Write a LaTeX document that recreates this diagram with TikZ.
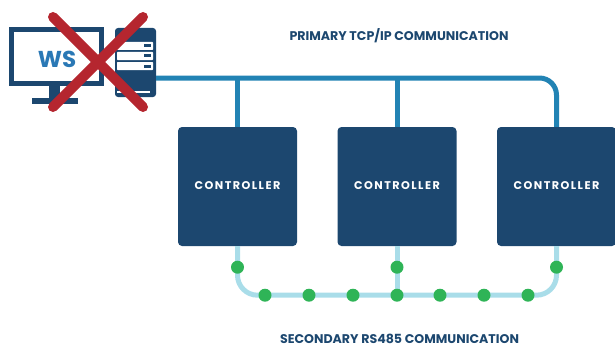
\documentclass[tikz,border=0pt]{standalone}
\usepackage{fontspec}
\setmainfont{Poppins}
\newfontfamily\ctrlfont[LetterSpace=13]{Poppins}
\usetikzlibrary{calc}
\definecolor{navy}{HTML}{1C476F}
\definecolor{tcpblue}{HTML}{2283B4}
\definecolor{wsblue}{HTML}{2A78B5}
\definecolor{rsblue}{HTML}{A9DDE9}
\definecolor{busgreen}{HTML}{2FB457}
\definecolor{crossred}{HTML}{B5262F}
\tikzstyle{controller} = [rectangle, rounded corners=4pt, minimum width=119pt,
    minimum height=119pt, inner sep=0pt, text centered, fill=navy, text=white, font=\fontsize{11.2}{13}\ctrlfont\bfseries]
\tikzstyle{heading} = [inner sep=0pt, text=navy, font=\fontsize{12.6}{14}\selectfont\bfseries]
\tikzstyle{primary} = [tcpblue, line width=5pt]
\tikzstyle{secondary} = [rsblue, line width=5pt]
\tikzstyle{busdot} = [circle, fill=busgreen, minimum size=13pt, inner sep=0pt]
\tikzstyle{slot} = [rectangle, rounded corners=0.7pt, fill=white, minimum width=36pt, minimum height=8pt, inner sep=0pt]
\tikzstyle{slotled} = [rectangle, fill=navy, minimum width=7pt, minimum height=3pt, inner sep=0pt]
\begin{document}
\begin{tikzpicture}[x=1pt, y=-1pt, node distance=159.5pt]
    \useasboundingbox (0,0) rectangle (615,345);

    % header nodes
    \node (PrimaryLabel) [heading] at (399,36) {PRIMARY TCP/IP COMMUNICATION};
    \node (SecondaryLabel) [heading] at (399.5,339) {SECONDARY RS485 COMMUNICATION};

    % workstation
    \node (Screen) [rectangle, draw=navy, line width=5pt, fill=white, minimum width=90pt, minimum height=54pt, inner sep=0pt] at (56.5,56.5) {};
    \node (WsLabel) [text=wsblue, inner sep=0pt, font=\fontsize{23}{25}\selectfont\bfseries] at (57,59) {WS};
    \node (Stand) [rectangle, fill=navy, minimum width=11pt, minimum height=12pt, inner sep=0pt] at (54.5,92) {};
    \node (StandBase) [rectangle, fill=navy, minimum width=46pt, minimum height=6pt, inner sep=0pt] at (55,101) {};

    % server
    \node (Server) [rectangle, rounded corners=3pt, fill=navy, minimum width=41pt, minimum height=69pt, inner sep=0pt] at (135.5,62.5) {};
    \node (SlotA) [slot] at (135,46) {};
    \node (SlotB) [slot] at (135,56) {};
    \node (SlotC) [slot] at (135,66) {};
    \node (LedA) [slotled] at (147.5,46) {};
    \node (LedB) [slotled] at (147.5,56) {};
    \node (LedC) [slotled] at (147.5,66) {};
    \node (SlotD) [rectangle, fill=white, minimum width=33pt, minimum height=2pt, inner sep=0pt] at (133,91.5) {};

    % controller nodes
    \node (ControllerA) [controller] at (237.5,186.5) {\raisebox{1pt}{CONTROLLER}};
    \node (ControllerB) [controller, right of=ControllerA] {\raisebox{1pt}{CONTROLLER}};
    \node (ControllerC) [controller, right of=ControllerB] {\raisebox{1pt}{CONTROLLER}};

    % primary line
    \coordinate (TcpStart) at ($(Server.east)+(0,15.5)$);
    \draw [primary, rounded corners=17pt] (TcpStart) -- (TcpStart -| ControllerC.north) -- (ControllerC.north);
    \draw [primary] (ControllerA.north) -- (ControllerA.north |- TcpStart);
    \draw [primary] (ControllerB.north) -- (ControllerB.north |- TcpStart);

    % secondary line
    \coordinate (RsLeft) at ($(ControllerA.south)+(0,49)$);
    \coordinate (RsMid) at ($(ControllerB.south)+(0,49)$);
    \coordinate (RsRight) at ($(ControllerC.south)+(0,49)$);
    \draw [secondary, rounded corners=20pt] (ControllerA.south) -- (RsLeft) -- (RsRight) -- (ControllerC.south);
    \draw [secondary] (ControllerB.south) -- (RsMid);

    % green dots on the drops
    \node (DotA) [busdot] at ($(ControllerA.south)+(0,21)$) {};
    \node (DotB) [busdot] at ($(ControllerB.south)+(0,21)$) {};
    \node (DotC) [busdot] at ($(ControllerC.south)+(0,21)$) {};

    % green dots on the bus
    \node (BusA) [busdot] at ($(RsLeft)+(27.5,0)$) {};
    \node (BusB) [busdot] at ($(RsLeft)+(71.5,0)$) {};
    \node (BusC) [busdot] at ($(RsLeft)+(115.5,0)$) {};
    \node (BusD) [busdot] at (RsMid) {};
    \node (BusE) [busdot] at ($(RsLeft)+(202.5,0)$) {};
    \node (BusF) [busdot] at ($(RsLeft)+(246.5,0)$) {};
    \node (BusG) [busdot] at ($(RsLeft)+(290.5,0)$) {};

    % red cross
    \coordinate (CrossA) at (53,17);
    \coordinate (CrossB) at (143,107);
    \coordinate (CrossC) at (143,17);
    \coordinate (CrossD) at (53,107);
    \draw [crossred, line width=10pt, line cap=round] (CrossA) -- (CrossB);
    \draw [crossred, line width=10pt, line cap=round] (CrossC) -- (CrossD);
\end{tikzpicture}
\end{document}
